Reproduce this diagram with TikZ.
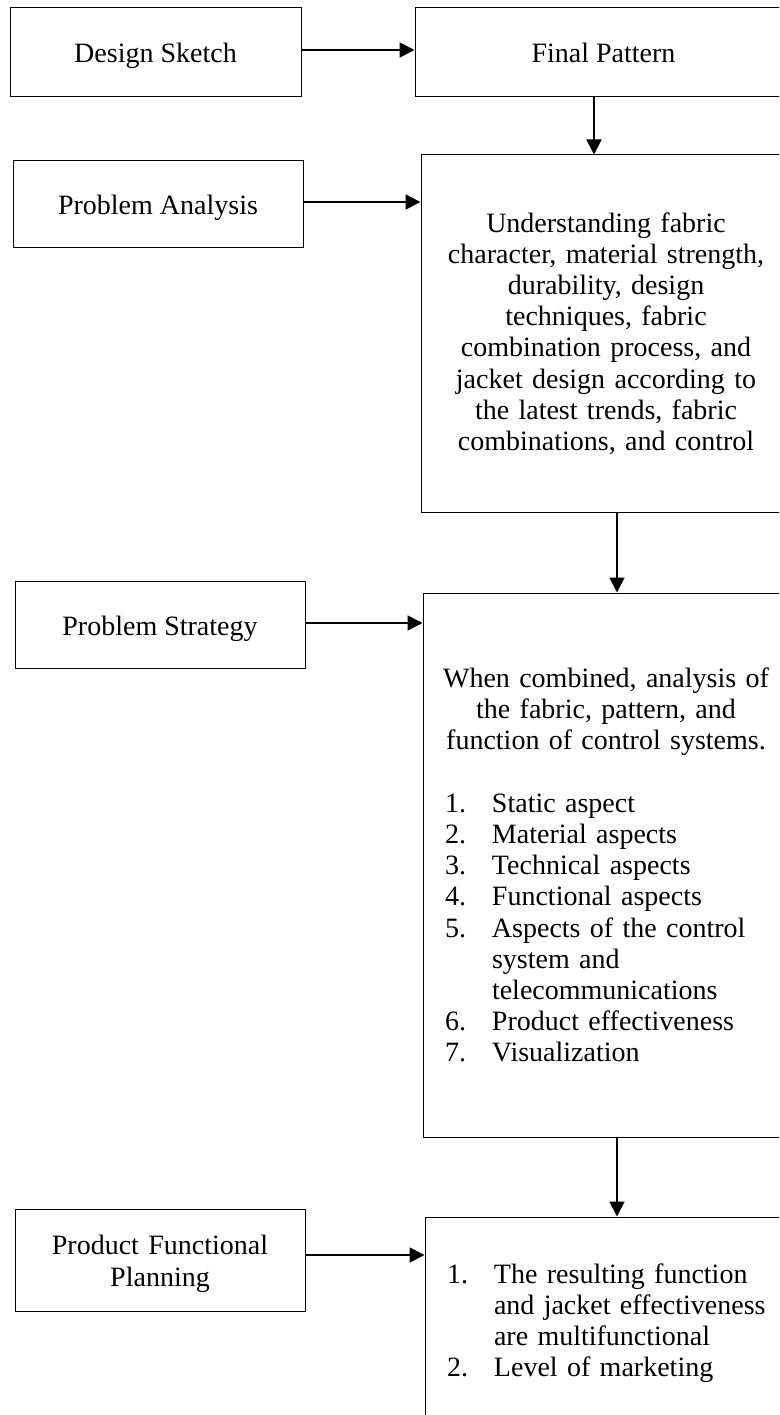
\documentclass[tikz,border=0pt]{standalone}
\usepackage{fontspec}
\setmainfont{Liberation Serif}
\usetikzlibrary{arrows.meta}
\newcommand\numbox[1]{\makebox[47pt][l]{#1}}
\newcommand\itemline[2]{\mbox{\numbox{#1}#2}}
\newcommand\ctrline[1]{\makebox[\linewidth][c]{#1}}
\begin{document}
\begin{tikzpicture}[x=1pt,y=-1pt,
  box/.style={draw=black, line width=1pt, inner sep=0pt, font=\fontsize{28}{31.2}\selectfont},
  small/.style={box, text height=22pt, text depth=1pt},
  arr/.style={line width=1.8pt, -{Triangle[length=15pt,width=15pt]}}]
\useasboundingbox (0,0) rectangle (779,1415);
\clip (0,0) rectangle (779,1415);
% left column
\node[small, minimum width=291pt, minimum height=89pt] (ds) at (155.5,52.5) {Design Sketch};
\node[small, minimum width=290pt, minimum height=87pt] (pa) at (158,204.5) {Problem Analysis};
\node[small, minimum width=290pt, minimum height=87pt] (ps) at (160,624.5) {Problem Strategy};
\node[box, minimum width=290pt, minimum height=102pt, text width=290pt, align=center] (pfp) at (160,1260) {\rule{0pt}{27pt}Product Functional\\ Planning};
% right column
\node[small, minimum width=377pt, minimum height=89pt] (fp) at (603.5,52.5) {Final Pattern};
\node[box, minimum width=370pt, minimum height=357pt, text width=360pt, align=center] (bb1) at (606,333.5)
  {Understanding fabric\\ character, material strength,\\ durability, design\\ techniques, fabric\\ combination process, and\\ jacket design according to\\ the latest trends, fabric\\ combinations, and control};
\node[box, minimum width=366pt, minimum height=544pt, text width=322pt, align=left] (bb2) at (606,865)
  {\ctrline{When combined, analysis of}\\
   \ctrline{the fabric, pattern, and}\\
   \ctrline{function of control systems.}\\
   \mbox{}\\
   \itemline{1.}{Static aspect}\\
   \itemline{2.}{Material aspects}\\
   \itemline{3.}{Technical aspects}\\
   \itemline{4.}{Functional aspects}\\
   \itemline{5.}{Aspects of the control}\\
   \itemline{}{system and}\\
   \itemline{}{telecommunications}\\
   \itemline{6.}{Product effectiveness}\\
   \itemline{7.}{Visualization}};
\node[box, minimum width=362pt, minimum height=212pt, text width=318pt, align=left] (bb3) at (606,1323)
  {\itemline{1.}{The resulting function}\\
   \itemline{}{and jacket effectiveness}\\
   \itemline{}{are multifunctional}\\
   \itemline{2.}{Level of marketing}};
% connectors
\draw[arr] ([yshift=2.5pt]ds.east) -- ([yshift=2.5pt]fp.west);
\draw[arr] ([xshift=-9.5pt]fp.south) -- ([xshift=-9.5pt]fp.south |- bb1.north);
\draw[arr] ([yshift=2.5pt]pa.east) -- ([yshift=2.5pt]pa.east -| bb1.west);
\draw[arr] ([xshift=11pt]bb1.south) -- ([xshift=11pt]bb1.south |- bb2.north);
\draw[arr] ([yshift=1.5pt]ps.east) -- ([yshift=1.5pt]ps.east -| bb2.west);
\draw[arr] ([xshift=11pt]bb2.south) -- ([xshift=11pt]bb2.south |- bb3.north);
\draw[arr] ([yshift=5pt]pfp.east) -- ([yshift=5pt]pfp.east -| bb3.west);
\end{tikzpicture}
\end{document}
